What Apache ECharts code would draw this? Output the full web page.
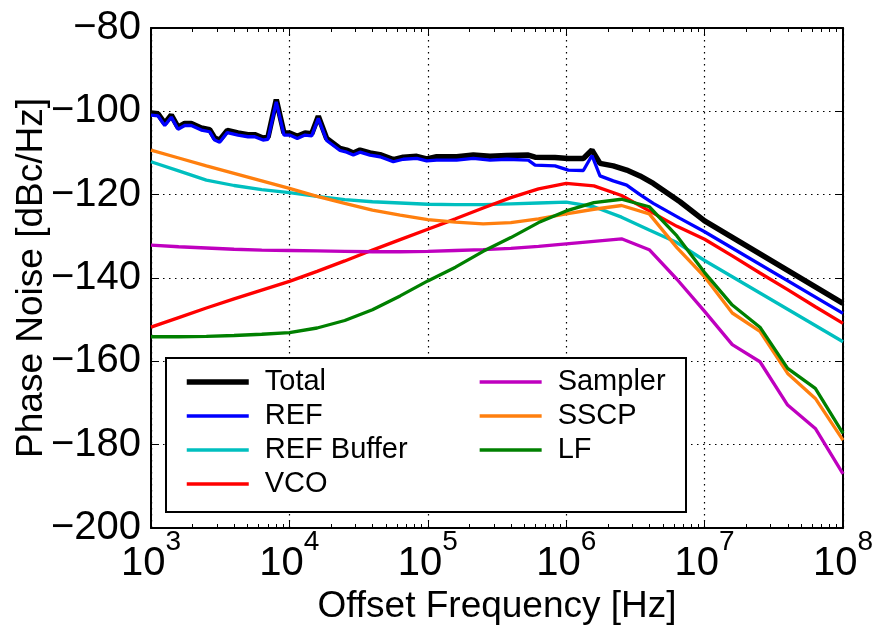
<!doctype html>
<html>
<head>
<meta charset="utf-8">
<title>Phase Noise</title>
<script src="https://cdn.jsdelivr.net/npm/echarts@6/dist/echarts.min.js"></script>
<style>
    html, body { margin: 0; padding: 0; background: #fff; }
    #main { width: 872px; height: 627px; }
</style>
</head>
<body>
<div id="main"></div>
<script>
// common frequency grid (0.2 decade steps) used by the smooth contributors
var freqGrid = [1000, 1585, 2512, 3981, 6310, 10000, 15849, 25119, 39811, 63096,
    100000, 158489, 251189, 398107, 630957, 1000000, 1584893, 2511886, 3981072, 6309573,
    10000000, 15848932, 25118864, 39810717, 63095734, 100000000];

var refBuffer = [-112.1, -114.3, -116.5, -117.8, -118.8, -119.5, -120.4, -121.2, -121.7, -122.0,
    -122.3, -122.4, -122.4, -122.2, -122.0, -121.8, -122.9, -125.4, -128.5, -131.5,
    -135.8, -139.7, -143.6, -147.5, -151.4, -155.3];
var vco = [-151.8, -149.5, -147.2, -145.0, -142.9, -140.8, -138.4, -135.9, -133.3, -130.8,
    -128.3, -125.8, -123.2, -120.7, -118.6, -117.3, -117.9, -120.2, -123.9, -127.6,
    -130.7, -134.7, -138.8, -142.8, -146.9, -150.9];
var sampler = [-132.1, -132.5, -132.8, -133.1, -133.3, -133.4, -133.5, -133.6, -133.7, -133.7,
    -133.6, -133.4, -133.2, -132.9, -132.4, -131.8, -131.2, -130.6, -133.2, -140.3,
    -148.0, -156.0, -160.1, -170.5, -176.1, -187.0];
var sscp = [-109.3, -111.2, -113.1, -114.9, -116.7, -118.5, -120.4, -122.1, -123.7, -124.9,
    -126.0, -126.6, -127.0, -126.7, -125.8, -124.6, -123.5, -122.6, -124.6, -132.7,
    -139.7, -148.4, -152.8, -162.9, -168.9, -178.9];
var lf = [-154.1, -154.1, -154.0, -153.8, -153.5, -153.1, -152.0, -150.2, -147.6, -144.3,
    -140.7, -137.4, -133.6, -130.3, -126.7, -123.9, -121.9, -121.1, -122.9, -129.9,
    -138.7, -146.5, -151.8, -161.7, -166.5, -177.3];

// finer (noisy) frequency points for REF and Total
var fineFreq = [1000, 1124, 1256, 1402, 1567, 1752, 1955, 2309, 2655, 2885,
    3135, 3558, 4253, 5022, 5613, 6445, 7003, 8040, 9138, 10040,
    11400, 12970, 14490, 16180, 18590, 23210, 25950, 28980, 32370, 38200,
    45150, 56350, 66540, 83200, 98200, 115900, 161700, 213300, 281400, 371700,
    532300, 595500, 830000, 1035000, 1330000, 1535000, 1754000, 2188000, 2735000, 3413000,
    4260000, 6640000, 10000000, 100000000];
var ref = [-100.9, -101.1, -103.4, -101.4, -104.3, -103.4, -103.4, -104.5, -104.9, -106.9,
    -107.4, -105.1, -105.7, -106.1, -106.1, -106.9, -106.7, -97.7, -105.7, -105.7,
    -106.5, -105.7, -105.9, -101.7, -107.0, -109.4, -109.8, -110.5, -109.8, -110.5,
    -110.9, -112.1, -111.5, -111.3, -111.9, -111.7, -111.7, -111.3, -111.7, -111.5,
    -111.7, -112.9, -113.1, -114.1, -114.2, -110.6, -115.5, -116.7, -117.7, -120.0,
    -122.1, -125.7, -128.9, -148.5];
var total = [-100.4, -100.6, -102.9, -100.9, -103.8, -102.9, -102.9, -104.0, -104.4, -106.4,
    -106.9, -104.6, -105.2, -105.6, -105.6, -106.4, -106.2, -97.2, -105.2, -105.2,
    -106.0, -105.2, -105.4, -101.2, -106.5, -108.9, -109.3, -110.0, -109.3, -110.0,
    -110.4, -111.6, -111.0, -110.8, -111.4, -110.9, -110.9, -110.5, -110.8, -110.6,
    -110.5, -111.0, -111.1, -111.3, -111.3, -109.3, -112.5, -113.1, -114.1, -115.5,
    -117.3, -121.7, -126.3, -146.1];

var decades = [3, 4, 5, 6, 7, 8];
var minorMult = [2, 3, 4, 5, 6, 7, 8, 9];

var FONT = "'Liberation Sans', Arial, sans-serif";

function pairs(xs, ys) {
    return xs.map(function (x, i) { return [x, ys[i]]; });
}

var minorTicks = [];
decades.slice(0, -1).forEach(function (d) {
    minorMult.forEach(function (m) { minorTicks.push(d + Math.log10(m)); });
});

var chart = echarts.init(document.getElementById('main'), null, { renderer: 'canvas' });

var dotted = { color: '#000', width: 1.2, type: [1.5, 4.5] };

function series(name, xs, ys, color, width) {
    return {
        name: name,
        type: 'line',
        xAxisIndex: 0,
        yAxisIndex: 0,
        data: pairs(xs, ys),
        symbol: 'none',
        showSymbol: false,
        animation: false,
        color: color,
        lineStyle: { color: color, width: width }
    };
}

var legendCommon = {
    orient: 'vertical',
    top: 367,
    padding: 0,
    itemWidth: 62,
    itemHeight: 3,
    itemGap: 4,
    itemStyle: { opacity: 0 },
    lineStyle: { width: 3.3 },
    textStyle: { fontFamily: FONT, fontSize: 29, lineHeight: 30, color: '#000', padding: [0, 0, 0, 11] },
    selectedMode: false
};

chart.setOption({
    backgroundColor: '#fff',
    animation: false,
    grid: { left: 151, right: 29, top: 28, bottom: 99, containLabel: false, outerBoundsMode: 'none' },
    graphic: [{
        type: 'rect',
        z: 3,
        shape: { x: 166, y: 358, width: 520, height: 154 },
        style: { fill: '#fff', stroke: '#000', lineWidth: 2 }
    }],
    legend: [
        Object.assign({}, legendCommon, {
            left: 184,
            data: [{ name: 'Total', lineStyle: { width: 5.5 } }, 'REF', 'REF Buffer', 'VCO']
        }),
        Object.assign({}, legendCommon, {
            left: 478,
            data: ['Sampler', 'SSCP', 'LF']
        })
    ],
    xAxis: [{
        type: 'log',
        logBase: 10,
        min: 1e3,
        max: 1e8,
        position: 'bottom',
        name: 'Offset Frequency [Hz]',
        nameLocation: 'middle',
        nameGap: 60,
        nameMoveOverlap: false,
        nameTextStyle: { fontFamily: FONT, fontSize: 37, color: '#000' },
        axisLine: { lineStyle: { color: '#000', width: 2 } },
        axisTick: { inside: true, length: 8, lineStyle: { color: '#000', width: 1 } },
        splitLine: { show: true, lineStyle: dotted },
        minorTick: { show: false },
        axisLabel: {
            margin: 0,
            formatter: function (v) {
                return '{b|10}{s|' + Math.round(Math.log10(v)) + '}';
            },
            rich: {
                b: { fontFamily: FONT, fontSize: 40, color: '#000', verticalAlign: 'bottom', lineHeight: 56 },
                s: { fontFamily: FONT, fontSize: 28, color: '#000', verticalAlign: 'top', lineHeight: 56 }
            }
        }
    }, {
        type: 'value',
        min: 3,
        max: 8,
        position: 'bottom',
        axisLine: { show: false },
        axisLabel: { show: false },
        splitLine: { show: false },
        axisTick: { inside: true, length: 4, customValues: minorTicks, lineStyle: { color: '#000', width: 1 } }
    }, {
        type: 'log',
        logBase: 10,
        min: 1e3,
        max: 1e8,
        position: 'top',
        axisLine: { lineStyle: { color: '#000', width: 2 } },
        axisTick: { inside: true, length: 8, lineStyle: { color: '#000', width: 1 } },
        axisLabel: { show: false },
        splitLine: { show: false }
    }, {
        type: 'value',
        min: 3,
        max: 8,
        position: 'top',
        axisLine: { show: false },
        axisLabel: { show: false },
        splitLine: { show: false },
        axisTick: { inside: true, length: 4, customValues: minorTicks, lineStyle: { color: '#000', width: 1 } }
    }],
    yAxis: [{
        type: 'value',
        min: -200,
        max: -80,
        interval: 20,
        position: 'left',
        name: 'Phase Noise [dBc/Hz]',
        nameLocation: 'middle',
        nameGap: 101,
        nameMoveOverlap: false,
        nameRotate: 90,
        nameTextStyle: { fontFamily: FONT, fontSize: 37, color: '#000' },
        axisLine: { show: true, lineStyle: { color: '#000', width: 2 } },
        axisTick: { show: true, inside: true, length: 8, lineStyle: { color: '#000', width: 1 } },
        splitLine: { show: true, lineStyle: dotted },
        axisLabel: {
            margin: 10,
            fontFamily: FONT,
            fontSize: 40,
            color: '#000',
            formatter: function (v) { return String(v).replace('-', '\u2212'); }
        }
    }, {
        type: 'value',
        min: -200,
        max: -80,
        interval: 20,
        position: 'right',
        axisLine: { show: true, lineStyle: { color: '#000', width: 2 } },
        axisTick: { show: true, inside: true, length: 8, lineStyle: { color: '#000', width: 1 } },
        axisLabel: { show: false },
        splitLine: { show: false }
    }],
    series: [
        series('Total', fineFreq, total, '#000000', 5.5),
        series('REF', fineFreq, ref, '#0000ff', 3.3),
        series('REF Buffer', freqGrid, refBuffer, '#00bfbf', 3.3),
        series('VCO', freqGrid, vco, '#ff0000', 3.3),
        series('Sampler', freqGrid, sampler, '#bf00bf', 3.3),
        series('SSCP', freqGrid, sscp, '#ff7f0e', 3.3),
        series('LF', freqGrid, lf, '#008000', 3.3)
    ]
});

window.onresize = chart.resize;
</script>
</body>
</html>
